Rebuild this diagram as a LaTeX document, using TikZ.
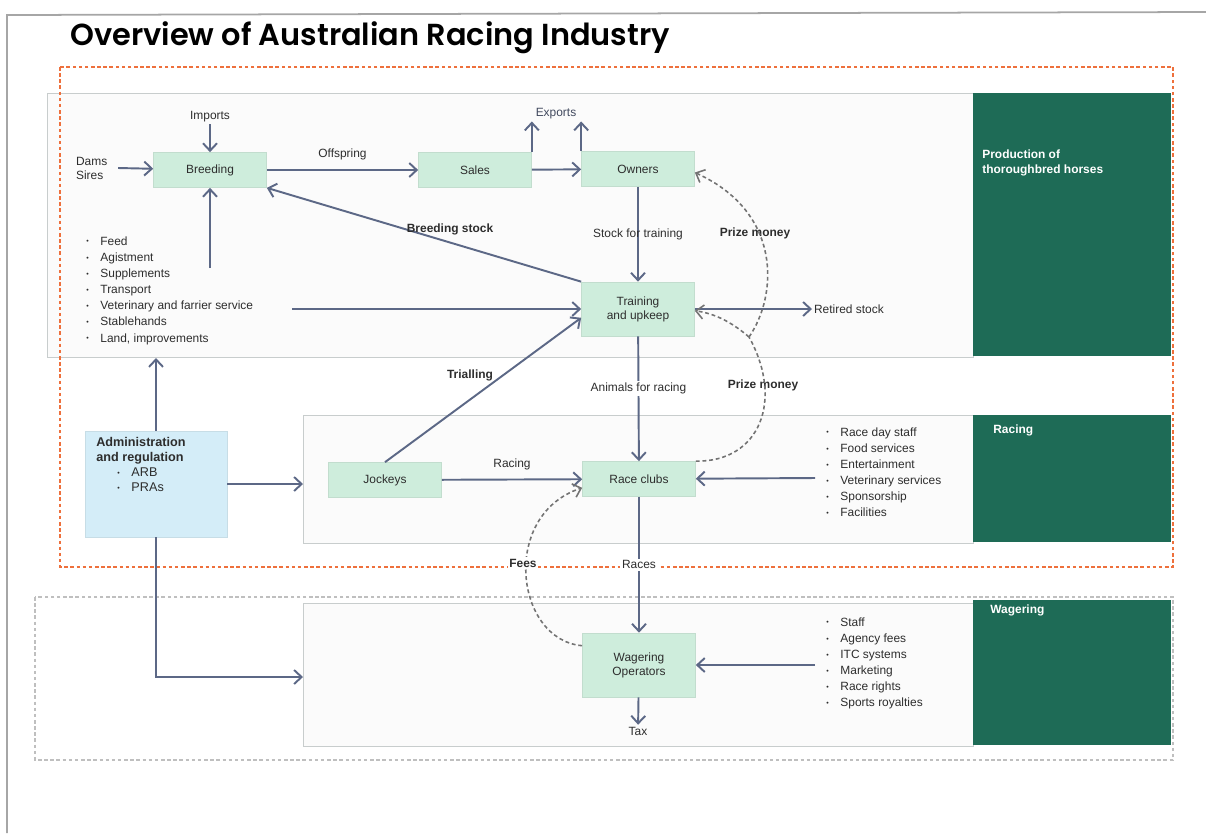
\documentclass[tikz,border=0pt]{standalone}
\usepackage{fontspec}
\setmainfont{Liberation Sans}
\IfFontExistsTF{Poppins SemiBold}
  {\newfontfamily\titlefont{Poppins SemiBold}}
  {\IfFontExistsTF{Poppins Medium}
    {\newfontfamily\titlefont{Poppins Medium}}
    {\newfontfamily\titlefont{Poppins}}}
\usetikzlibrary{arrows.meta}

\definecolor{darkteal}{RGB}{30,107,86}
\definecolor{boxgreen}{RGB}{206,237,220}
\definecolor{boxblue}{RGB}{212,237,248}
\definecolor{flowblue}{RGB}{92,104,134}
\definecolor{dashorange}{RGB}{238,112,60}
\definecolor{bandgray}{RGB}{200,205,205}
\definecolor{inkgray}{RGB}{45,45,45}

\tikzset{
  stage/.style={fill=boxgreen, draw=boxgreen!85!gray, minimum width=2.26cm, minimum height=0.7cm,
    align=center, text=inkgray, font=\fontsize{6.8}{8}\selectfont},
  flow/.style={draw=flowblue, line width=1.1pt, -{Straight Barb[length=1.5mm,width=2.8mm]}},
  cash/.style={draw=gray!90!black, line width=0.9pt, dash pattern=on 2.2pt off 1.6pt, -{Straight Barb[length=1.5mm,width=2.8mm]}},
  lbl/.style={inner sep=1pt, text=inkgray, font=\fontsize{6.8}{8}\selectfont},
  blbl/.style={inner sep=1pt, text=inkgray, font=\fontsize{6.8}{8}\selectfont\bfseries},
  band/.style={fill=gray!3, draw=bandgray, line width=0.6pt, anchor=north west, inner sep=0pt},
  tag/.style={fill=darkteal, draw=darkteal, anchor=north west, inner sep=0pt},
  tagtext/.style={text=white, anchor=north west, align=left, inner sep=0pt, font=\fontsize{6.8}{8.8}\selectfont\bfseries},
  items/.style={anchor=north west, align=left, inner sep=0pt, text=inkgray, font=\fontsize{6.8}{9.2}\selectfont}
}
\newcommand{\itm}{\makebox[8pt][l]{\raisebox{0.6pt}{\fontsize{4}{4}\selectfont\textbullet}}}

\begin{document}
\begin{tikzpicture}[x=0.02cm,y=-0.02cm]
\useasboundingbox (0,0) rectangle (1206,833);

% page frame and heading
\draw[gray!70, line width=1pt] (7,833) -- (7,15) -- (1206,12);
\node[anchor=west, inner sep=0pt, font=\titlefont\fontsize{17.3}{20}\selectfont] (title) at (70,38) {Overview of Australian Racing Industry};

% sector bands
\node[band, minimum width=18.52cm, minimum height=5.28cm] (prodband) at (47,93) {};
\node[band, minimum width=13.4cm, minimum height=2.56cm] (raceband) at (303,415) {};
\node[band, minimum width=13.4cm, minimum height=2.86cm] (wagerband) at (303,603) {};
\node[tag, minimum width=3.94cm, minimum height=5.24cm] (prodtag) at (973,93) {};
\node[tag, minimum width=3.94cm, minimum height=2.52cm] (racetag) at (973,415) {};
\node[tag, minimum width=3.94cm, minimum height=2.88cm] (wagertag) at (973,600) {};
\node[tagtext] (prodname) at (982,149) {Production of\\thoroughbred horses};
\node[tagtext] (racename) at (993,424) {Racing};
\node[tagtext] (wagername) at (990,604) {Wagering};

\draw[dashorange, line width=0.9pt, dash pattern=on 2pt off 1.5pt] (60,67) rectangle (1173,567);
\draw[gray!50, line width=0.8pt, dash pattern=on 2pt off 1.5pt] (35,597) rectangle (1173,760);

% stages
\node[stage] (breeding) at (210,170) {Breeding};
\node[stage] (sales) at (475,170) {Sales};
\node[stage] (owners) at (638,169) {Owners};
\node[stage, minimum height=1.08cm] (training) at (638,309) {Training\\and upkeep};
\node[stage] (jockeys) at (385,480) {Jockeys};
\node[stage] (raceclubs) at (639,479) {Race clubs};
\node[stage, minimum height=1.28cm] (wager) at (639,665) {Wagering\\Operators};
\node[fill=boxblue, draw=boxblue!85!gray, minimum width=2.84cm, minimum height=2.12cm] (admin) at (156,484) {};
\node[anchor=north west, align=left, inner sep=0pt, text=inkgray, font=\fontsize{7.2}{8.6}\selectfont] (admintext) at (96,437)
  {\textbf{Administration}\\\textbf{and regulation}\\\hspace{12pt}\itm ARB\\\hspace{12pt}\itm PRAs};

% inputs and outputs
\node[lbl] (imports) at (210,117) {Imports};
\node[lbl, anchor=west, align=left] (dams) at (74,168) {Dams\\Sires};
\node[lbl, text=flowblue!70!black] (exports) at (556,114) {Exports};
\node[lbl, anchor=west] (retired) at (812,309) {Retired stock};
\node[lbl] (tax) at (638,731) {Tax};
\node[items] (inputs) at (86,236) {\itm Feed\\\itm Agistment\\\itm Supplements\\\itm Transport\\
  \itm Veterinary and farrier service\\\itm Stablehands\\\itm Land, improvements};
\node[items] (raceinputs) at (826,427) {\itm Race day staff\\\itm Food services\\\itm Entertainment\\
  \itm Veterinary services\\\itm Sponsorship\\\itm Facilities};
\node[items] (wagerinputs) at (826,617) {\itm Staff\\\itm Agency fees\\\itm ITC systems\\
  \itm Marketing\\\itm Race rights\\\itm Sports royalties};
\coordinate (feedin) at (210,268);
\coordinate (vetin) at (292,309);
\coordinate (raceinto) at (815,478);
\coordinate (wagerinto) at (815,665);
\coordinate (adminlow) at (303,677);
\coordinate (split) at (749,337);

% flows of horses
\draw[flow] (imports) -- (breeding);
\draw[flow] ([xshift=5pt]dams.east) -- (breeding);
\draw[flow] (breeding) -- (sales) node[lbl, midway, above=4pt] (offspring) {Offspring};
\draw[flow] (sales) -- (owners);
\draw[flow] (sales.north east) -- (sales.north east |- exports.south);
\draw[flow] (owners.north west) -- (owners.north west |- exports.south);
\draw[flow] (owners) -- (training) node[lbl, pos=0.5] (stocklbl) {Stock for training};
\draw[flow] (training.north west) -- (breeding.south east);
\node[blbl] (breedstock) at (450,229) {Breeding stock};
\draw[flow] (feedin) -- (breeding);
\draw[flow] (vetin) -- (training);
\draw[flow] (training) -- (retired);
\draw[flow] (jockeys.north) -- ([yshift=-5pt]training.west);
\node[blbl] (trialling) at (470,375) {Trialling};
\draw[flow] (training) -- (raceclubs) node[lbl, pos=0.42, fill=white] (animals) {Animals for racing};
\draw[flow] (jockeys) -- (raceclubs) node[lbl, midway, above=4pt] (racing) {Racing};
\draw[flow] (raceinto) -- (raceclubs);
\draw[flow] (raceclubs) -- (wager) node[lbl, pos=0.5, fill=white] (races) {Races};
\draw[flow] (wagerinto) -- (wager);
\draw[flow] (wager) -- (tax);

% administration
\draw[flow] (admin.north) -- (admin.north |- prodband.south);
\draw[flow] (admin.east) -- (admin.east -| raceband.west);
\draw[flow] (admin.south) |- (adminlow);

% money
\node[blbl] (prize1) at (755,233) {Prize money};
\node[blbl] (prize2) at (763,385) {Prize money};
\draw[cash, -] (raceclubs.north east) .. controls (760,462) and (784,400) .. (split);
\draw[cash] (split) .. controls (735,325) and (718,314) .. ([yshift=-1pt]training.east);
\draw[cash] (split) .. controls (778,295) and (782,212) .. ([yshift=-2pt]owners.east);
\draw[cash] ([yshift=11pt]wager.west) .. controls (515,640) and (500,515) .. ([yshift=-5pt]raceclubs.west);
\node[blbl, fill=white] (fees) at (523,563) {Fees};
\end{tikzpicture}
\end{document}
